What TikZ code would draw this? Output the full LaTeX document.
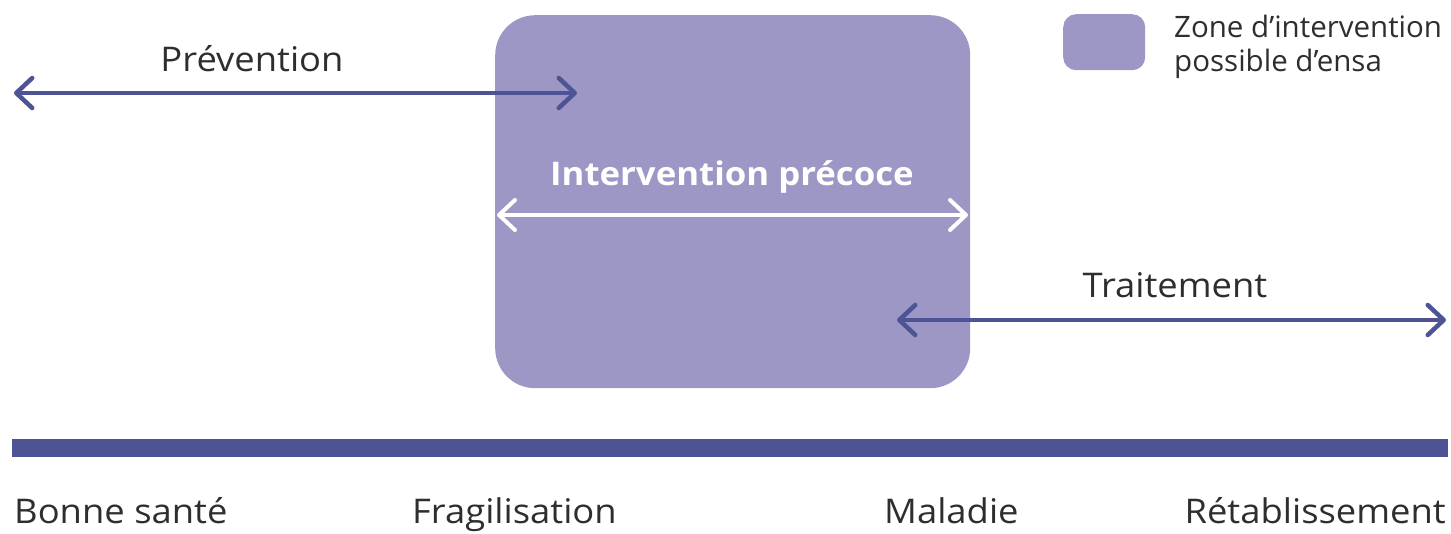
\documentclass[tikz,border=0pt]{standalone}
\usepackage{fontspec}
\setmainfont{Open Sans}
\usetikzlibrary{arrows.meta}
\definecolor{zone}{HTML}{9D97C5}
\definecolor{navy}{HTML}{4E5395}
\definecolor{ink}{HTML}{2E2E2E}
\newcommand\hwide[1]{\scalebox{1.07}[1]{#1}}
\tikzset{
  lbl/.style={inner sep=0pt, text=ink, font=\fontsize{34}{40}\selectfont},
  leg/.style={inner sep=0pt, text=ink, font=\fontsize{29.5}{35}\selectfont},
  span/.style={line width=4.5pt, {Straight Barb[length=16pt,width=30pt,round]}-{Straight Barb[length=16pt,width=30pt,round]}},
}
\begin{document}
\begin{tikzpicture}[x=1pt,y=-1pt]
\useasboundingbox (0,0) rectangle (1451,533);
% zone box
\node[fill=zone, rounded corners=40pt, minimum width=475pt, minimum height=373pt, inner sep=0pt, anchor=north west] (zonebox) at (495,15) {};
% legend
\node[fill=zone, rounded corners=13pt, minimum width=82pt, minimum height=56pt, inner sep=0pt, anchor=north west] (legbox) at (1063,14) {};
\node[leg, anchor=base west] (leg1) at (1174,37) {Zone d’intervention};
\node[leg, anchor=base west] (leg2) at (1174,71) {possible d’ensa};
% prevention
\node[lbl, anchor=base] (prev) at (252,71) {\hwide{Prévention}};
\coordinate (pa) at (14,93);
\coordinate (pb) at (577,93);
\draw[span, navy] (pa) -- (pb);
% intervention precoce
\node[inner sep=0pt, text=white, font=\fontsize{32.5}{40}\selectfont\bfseries, anchor=base] (ip) at (732,185) {\hwide{Intervention précoce}};
\coordinate (ia) at (497,215);
\coordinate (ib) at (968,215);
\draw[span, white, line width=4pt] (ia) -- (ib);
% traitement
\node[lbl, anchor=base] (trait) at (1175,297) {\hwide{Traitement}};
\coordinate (ta) at (897,320);
\coordinate (tb) at (1446,320);
\draw[span, navy] (ta) -- (tb);
% bar
\fill[navy] (12,439) rectangle (1448,457);
% bottom labels
\node[lbl, anchor=base west] (l1) at (14,523) {\hwide{Bonne santé}};
\node[lbl, anchor=base west] (l2) at (412,523) {\hwide{Fragilisation}};
\node[lbl, anchor=base west] (l3) at (884,523) {\hwide{Maladie}};
\node[lbl, anchor=base east] (l4) at (1446,523) {\hwide{Rétablissement}};
\end{tikzpicture}
\end{document}
